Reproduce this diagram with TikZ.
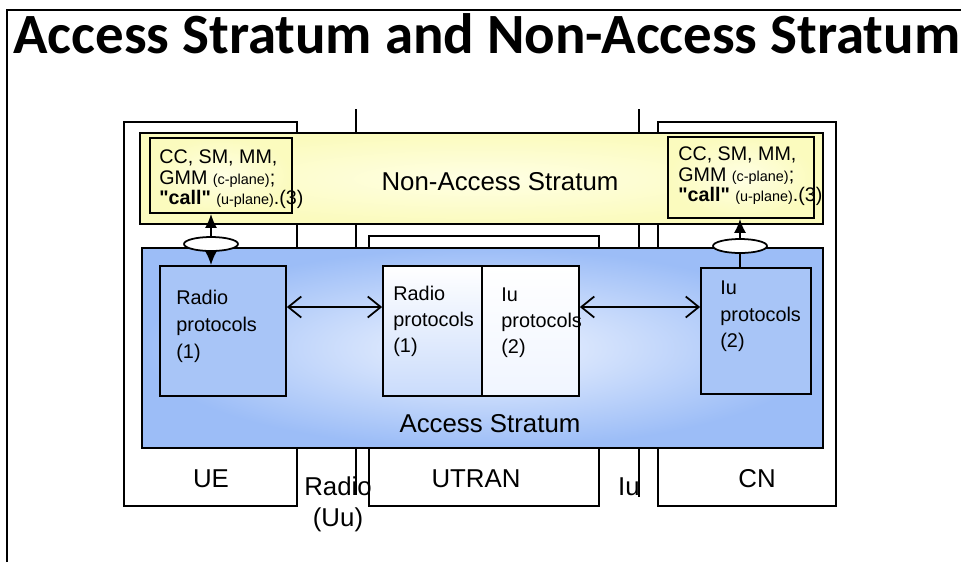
\documentclass[tikz,border=0pt]{standalone}
\usepackage{fontspec}
\setmainfont{Liberation Sans}
\newfontfamily\titlefont{Carlito}
\usepackage{xcolor}
\definecolor{asout}{RGB}{156,189,247}
\definecolor{asin}{RGB}{240,245,255}
\definecolor{protblue}{RGB}{168,197,247}
\definecolor{nasout}{RGB}{251,251,190}
\definecolor{nasin}{RGB}{255,255,228}
\usepackage{tikz}
\usetikzlibrary{arrows.meta,shapes.geometric,calc}
\newcommand{\planetxt}[1]{{\fontsize{8.2}{9}\selectfont #1}}

\begin{document}
\begin{tikzpicture}[x=0.02cm, y=-0.02cm,
    box/.style={draw, line width=1pt, rectangle, inner sep=0pt},
    lbl/.style={font=\fontsize{14.7}{18.1}\selectfont, inner sep=0pt, anchor=base},
    prot/.style={align=left, inner sep=0pt, anchor=north west},
    sap/.style={draw, ellipse, fill=white, line width=1pt, minimum width=1.08cm,
                minimum height=0.28cm, inner sep=0pt},
    peer/.style={line width=1pt,
                 {Straight Barb[length=2.6mm,width=4.2mm]}-{Straight Barb[length=2.6mm,width=4.2mm]}},
    ifline/.style={line width=1.1pt}]
  \useasboundingbox (0,0) rectangle (961,562);
  \draw[line width=0.8pt] (7,562) -- (7,10) -- (961,10);
  \node[anchor=base west, inner sep=0pt, font=\titlefont\bfseries\fontsize{32.4}{38}\selectfont]
       (title) at (13,53) {Access Stratum and Non-Access Stratum};

  % interfaces
  \coordinate (uutop) at (356,109);
  \coordinate (uubot) at (356,495);
  \coordinate (iutop) at (639,109);
  \coordinate (iubot) at (639,497);
  \draw[ifline] (uutop) -- (uubot);
  \draw[ifline] (iutop) -- (iubot);

  % domains
  \node[box, fill=white, minimum width=3.46cm, minimum height=7.68cm] (ue) at (210.5,314) {};
  \node[box, fill=white, minimum width=4.6cm, minimum height=5.4cm] (utran) at (484,371) {};
  \node[box, fill=white, minimum width=3.56cm, minimum height=7.68cm] (cn) at (747,314) {};
  \node[lbl] at (211,487) {UE};
  \node[lbl] at (476,487) {UTRAN};
  \node[lbl] at (757,487) {CN};
  \node[lbl, anchor=north, align=center] (uu) at (338,476) {Radio\\(Uu)};
  \node[lbl] (iu) at (629,495) {Iu};

  % non-access stratum
  \node[box, line width=0.9pt, inner color=nasin, outer color=nasout,
        minimum width=13.66cm, minimum height=1.82cm] (nas) at (481.5,178.5) {};
  \node[lbl] at (500,190) {Non-Access Stratum};
  \node[box, inner color=nasin, outer color=nasout,
        minimum width=2.84cm, minimum height=1.5cm] (nasL) at (221,175.5) {};
  \node[box, inner color=nasin, outer color=nasout,
        minimum width=2.92cm, minimum height=1.62cm] (nasR) at (741,177.5) {};
  \node[prot, font=\fontsize{11.2}{11.9}\selectfont] at (159,149)
       {CC, SM, MM,\\GMM \planetxt{(c-plane)};\\\textbf{\textquotedbl call\textquotedbl} \planetxt{(u-plane)}.(3)};
  \node[prot, font=\fontsize{11.2}{11.9}\selectfont] at (678,146)
       {CC, SM, MM,\\GMM \planetxt{(c-plane)};\\\textbf{\textquotedbl call\textquotedbl} \planetxt{(u-plane)}.(3)};

  % access stratum
  \node[box, line width=0.8pt, inner color=asin, outer color=asout,
        minimum width=13.62cm, minimum height=4cm] (as) at (482.5,348) {};
  \node[lbl] at (490,432) {Access Stratum};
  \node[box, fill=protblue, minimum width=2.52cm, minimum height=2.6cm] (rp1) at (223,331) {};
  \node[box, top color=white, bottom color=asin!55!asout,
        minimum width=1.98cm, minimum height=2.6cm] (rp2) at (432.5,331) {};
  \node[box, top color=white, bottom color=asin,
        minimum width=1.94cm, minimum height=2.6cm] (iu2) at (530.5,331) {};
  \node[box, fill=protblue, minimum width=2.2cm, minimum height=2.52cm] (iu3) at (756,331) {};
  \node[prot, font=\fontsize{11.3}{15.3}\selectfont] at (176,289.7) {Radio\\protocols\\(1)};
  \node[prot, font=\fontsize{11.3}{14.7}\selectfont] at (393,285.7) {Radio\\protocols\\(1)};
  \node[prot, font=\fontsize{11.3}{14.7}\selectfont] at (501,287.7) {Iu\\protocols\\(2)};
  \node[prot, font=\fontsize{11.3}{15}\selectfont] at (720,280.7) {Iu\\protocols\\(2)};

  % peer and service access links
  \draw[peer] ([yshift=0.48cm]rp1.east) -- ([yshift=0.48cm]rp2.west);
  \draw[peer] ([yshift=0.48cm]iu2.east) -- ([yshift=0.48cm]iu3.west);
  \coordinate (sapL) at (211,244);
  \coordinate (sapR) at (740,246);
  \draw[line width=1pt, {Latex[length=2.8mm,width=2.4mm]}-{Latex[length=2.8mm,width=2.4mm]}]
       (nasL.south -| sapL) -- (rp1.north -| sapL);
  \draw[line width=1pt, -{Latex[length=2.8mm,width=2.4mm]}]
       (iu3.north -| sapR) -- (nasR.south -| sapR);
  \node[sap] (ellL) at (sapL) {};
  \node[sap] (ellR) at (sapR) {};
\end{tikzpicture}
\end{document}
